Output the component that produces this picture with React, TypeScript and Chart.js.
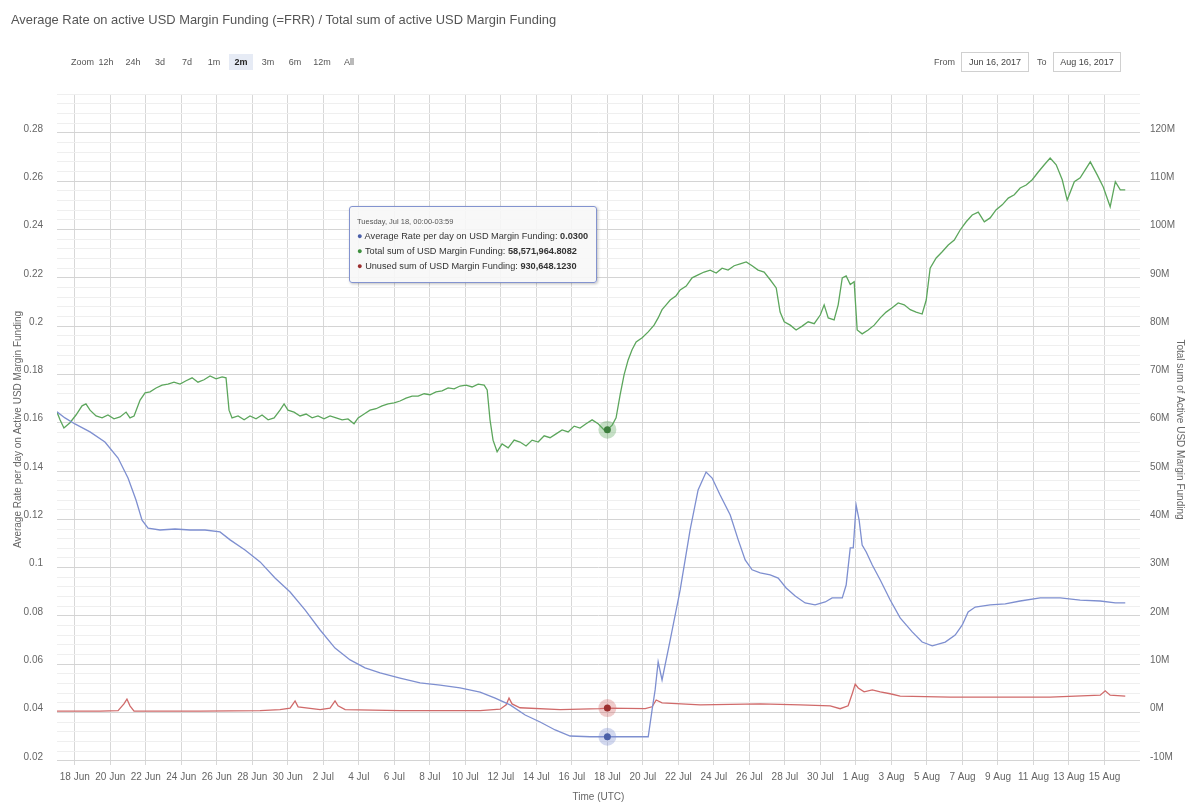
import React, { useEffect, useRef } from 'react';
import { Chart, registerables } from 'chart.js';

Chart.register(...registerables);

const FONT = "'Liberation Sans', Arial, Helvetica, sans-serif";

// x values are days since 1 Jun 2017 00:00 UTC
const xTickDays = [17, 19, 21, 23, 25, 27, 29, 31, 33, 35, 37, 39, 41, 43, 45, 47, 49, 51, 53, 55, 57, 59, 61, 63, 65, 67, 69, 71, 73, 75];
const xTickLabels = ['18 Jun', '20 Jun', '22 Jun', '24 Jun', '26 Jun', '28 Jun', '30 Jun', '2 Jul', '4 Jul', '6 Jul', '8 Jul', '10 Jul', '12 Jul', '14 Jul', '16 Jul', '18 Jul', '20 Jul', '22 Jul', '24 Jul', '26 Jul', '28 Jul', '30 Jul', '1 Aug', '3 Aug', '5 Aug', '7 Aug', '9 Aug', '11 Aug', '13 Aug', '15 Aug'];

const leftTickValues = [0.28, 0.26, 0.24, 0.22, 0.2, 0.18, 0.16, 0.14, 0.12, 0.1, 0.08, 0.06, 0.04, 0.02];
const leftTickLabels = ['0.28', '0.26', '0.24', '0.22', '0.2', '0.18', '0.16', '0.14', '0.12', '0.1', '0.08', '0.06', '0.04', '0.02'];
const rightTickValues = [120, 110, 100, 90, 80, 70, 60, 50, 40, 30, 20, 10, 0, -10];
const rightTickLabels = ['120M', '110M', '100M', '90M', '80M', '70M', '60M', '50M', '40M', '30M', '20M', '10M', '0M', '-10M'];

// Average Rate per day on USD Margin Funding (left axis)
const rateDays = [16.0, 16.45, 17.01, 17.86, 18.7, 19.44, 20.0, 20.45, 20.79, 21.13, 21.8, 22.65, 23.49, 24.34, 25.18, 25.75, 26.59, 27.44, 28.28, 29.13, 29.97, 30.82, 31.66, 32.51, 33.35, 34.2, 35.32, 36.45, 37.58, 38.7, 39.83, 40.68, 41.52, 42.37, 43.21, 44.06, 44.9, 46.03, 47.0, 48.28, 49.3, 49.52, 49.69, 49.86, 50.08, 50.54, 51.1, 51.66, 52.11, 52.56, 52.9, 53.35, 53.92, 54.37, 54.76, 55.15, 55.61, 56.17, 56.62, 57.07, 57.58, 58.14, 58.7, 59.27, 59.66, 60.23, 60.45, 60.68, 60.85, 61.01, 61.18, 61.35, 61.58, 61.92, 62.37, 62.93, 63.49, 64.17, 64.73, 65.3, 66.03, 66.59, 66.99, 67.32, 67.72, 68.56, 69.41, 70.25, 71.38, 72.51, 73.63, 74.76, 75.61, 76.17];
const rateValues = [0.1645, 0.162, 0.1595, 0.1562, 0.152, 0.1454, 0.1371, 0.128, 0.1197, 0.1164, 0.1156, 0.116, 0.1156, 0.1156, 0.1148, 0.1115, 0.1073, 0.1024, 0.0957, 0.0899, 0.0825, 0.0742, 0.0667, 0.0618, 0.0585, 0.0564, 0.0543, 0.0523, 0.0514, 0.0502, 0.0485, 0.046, 0.0432, 0.039, 0.0361, 0.0328, 0.0303, 0.03, 0.03, 0.03, 0.03, 0.0412, 0.0494, 0.061, 0.0535, 0.0701, 0.0908, 0.1156, 0.1322, 0.1396, 0.1371, 0.1301, 0.1218, 0.1115, 0.1032, 0.0991, 0.0978, 0.097, 0.0957, 0.0916, 0.0883, 0.0854, 0.0846, 0.0858, 0.0875, 0.0875, 0.0928, 0.1082, 0.1082, 0.126, 0.1197, 0.1094, 0.1065, 0.1011, 0.0949, 0.0866, 0.0792, 0.0734, 0.0692, 0.0676, 0.0692, 0.0721, 0.0763, 0.0817, 0.0837, 0.0846, 0.085, 0.0862, 0.0875, 0.0875, 0.0866, 0.0862, 0.0854, 0.0854];

// Total sum of USD Margin Funding, millions (right axis)
const totalDays = [16.0, 16.17, 16.39, 16.73, 17.07, 17.41, 17.63, 17.86, 18.2, 18.54, 18.87, 19.21, 19.55, 19.89, 20.11, 20.34, 20.68, 20.96, 21.24, 21.58, 21.92, 22.25, 22.59, 22.93, 23.27, 23.61, 23.94, 24.28, 24.62, 24.96, 25.3, 25.52, 25.69, 25.86, 26.2, 26.54, 26.87, 27.21, 27.55, 27.89, 28.23, 28.56, 28.79, 29.01, 29.35, 29.69, 30.03, 30.37, 30.7, 31.04, 31.38, 31.72, 32.06, 32.39, 32.73, 32.96, 33.3, 33.63, 33.97, 34.31, 34.65, 34.99, 35.32, 35.66, 36.0, 36.34, 36.68, 37.01, 37.35, 37.69, 38.03, 38.37, 38.7, 39.04, 39.38, 39.72, 40.06, 40.23, 40.39, 40.56, 40.79, 41.07, 41.41, 41.75, 42.08, 42.42, 42.76, 43.1, 43.44, 43.77, 44.11, 44.45, 44.79, 45.13, 45.46, 45.8, 46.14, 46.48, 46.82, 47.0, 47.27, 47.49, 47.72, 47.94, 48.17, 48.39, 48.62, 48.96, 49.3, 49.63, 49.86, 50.08, 50.31, 50.54, 50.87, 51.1, 51.44, 51.77, 52.11, 52.45, 52.79, 53.13, 53.46, 53.8, 54.14, 54.48, 54.82, 55.15, 55.49, 55.83, 56.17, 56.51, 56.73, 56.96, 57.3, 57.63, 57.97, 58.31, 58.65, 58.99, 59.21, 59.44, 59.77, 60.0, 60.23, 60.45, 60.68, 60.9, 61.07, 61.35, 61.69, 62.03, 62.37, 62.7, 63.04, 63.38, 63.72, 64.06, 64.39, 64.73, 64.96, 65.18, 65.52, 65.86, 66.2, 66.54, 66.87, 67.21, 67.55, 67.89, 68.23, 68.56, 68.9, 69.24, 69.58, 69.92, 70.25, 70.59, 70.93, 71.27, 71.61, 71.94, 72.28, 72.62, 72.9, 73.3, 73.63, 74.2, 74.59, 74.93, 75.32, 75.61, 75.89, 76.17];
const totalValues = [62.2, 60.6, 58.9, 60.0, 61.6, 63.5, 63.9, 62.6, 61.4, 61.0, 61.6, 60.8, 61.2, 62.2, 61.0, 61.4, 64.7, 66.2, 66.4, 67.2, 67.8, 68.0, 68.4, 68.0, 68.7, 69.3, 68.4, 68.9, 69.7, 69.1, 69.5, 69.3, 62.6, 61.0, 61.4, 60.6, 61.4, 60.8, 61.6, 60.6, 61.0, 62.6, 63.9, 62.6, 62.2, 61.4, 61.8, 61.0, 61.4, 60.8, 61.4, 61.0, 60.6, 60.8, 59.8, 61.0, 61.8, 62.6, 62.9, 63.5, 63.9, 64.1, 64.5, 65.1, 65.5, 65.5, 66.0, 65.8, 66.4, 66.6, 67.2, 67.0, 67.6, 67.8, 67.4, 68.0, 67.8, 66.8, 60.6, 56.4, 54.0, 55.6, 54.8, 56.4, 56.0, 55.2, 56.4, 56.0, 57.3, 56.9, 57.7, 58.5, 58.1, 59.3, 58.9, 59.8, 60.6, 59.8, 58.5, 58.57, 59.5, 61.0, 65.8, 69.9, 73.0, 75.1, 76.7, 77.6, 78.8, 80.2, 81.7, 83.4, 84.4, 85.4, 86.3, 87.5, 88.3, 90.0, 90.6, 91.2, 91.6, 91.0, 92.0, 91.6, 92.5, 92.9, 93.3, 92.5, 91.6, 91.2, 89.6, 87.9, 82.9, 80.9, 80.2, 79.2, 80.0, 80.9, 80.5, 82.3, 84.4, 81.7, 81.3, 84.4, 90.0, 90.4, 88.6, 89.2, 79.2, 78.4, 79.2, 80.2, 81.7, 82.9, 83.8, 84.8, 84.4, 83.4, 82.9, 82.5, 85.4, 92.0, 94.1, 95.4, 96.8, 97.8, 99.9, 101.6, 103.0, 103.6, 101.6, 102.4, 104.1, 105.1, 106.5, 107.2, 108.6, 109.2, 110.3, 111.9, 113.4, 114.8, 113.4, 110.3, 106.1, 109.9, 110.7, 114.0, 111.3, 108.8, 104.7, 109.9, 108.2, 108.2];

// Unused sum of USD Margin Funding, millions (right axis)
const unusedDays = [16.0, 18.42, 19.44, 19.77, 19.94, 20.11, 20.34, 24.06, 27.44, 28.56, 29.13, 29.41, 29.58, 30.82, 31.38, 31.66, 31.83, 32.23, 35.32, 39.83, 40.96, 41.3, 41.46, 41.63, 42.08, 44.34, 46.59, 47.0, 49.13, 49.52, 49.75, 50.08, 52.23, 55.61, 57.86, 59.55, 60.11, 60.56, 60.79, 60.96, 61.13, 61.46, 61.92, 62.37, 62.93, 63.49, 66.31, 69.13, 71.94, 74.76, 75.04, 75.32, 76.17];
const unusedValues = [0.3, 0.3, 0.4, 1.8, 2.8, 1.4, 0.3, 0.3, 0.4, 0.6, 0.9, 2.4, 1.2, 0.6, 0.9, 2.4, 1.4, 0.6, 0.4, 0.4, 0.7, 1.6, 3.0, 1.8, 1.0, 0.6, 0.8, 0.93, 0.8, 1.2, 2.6, 2.0, 1.6, 1.8, 1.6, 1.4, 0.8, 1.4, 3.9, 5.9, 5.1, 4.3, 4.7, 4.3, 3.9, 3.4, 3.2, 3.2, 3.2, 3.6, 4.5, 3.6, 3.4];

const seriesNames = ['Average Rate per day on USD Margin Funding', 'Total sum of USD Margin Funding', 'Unused sum of USD Margin Funding'];
const highlightDay = 47;
const tooltipHeader = 'Tuesday, Jul 18, 00:00-03:59';
const tooltipValues = ['0.0300', '58,571,964.8082', '930,648.1230'];

const zoomButtons = ['12h', '24h', '3d', '7d', '1m', '2m', '3m', '6m', '12m', 'All'];
const selectedZoom = '2m';
const fromDate = 'Jun 16, 2017';
const toDate = 'Aug 16, 2017';

const COLORS = ['#7e8fd0', '#5ca65c', '#d06a6a'];
const HALOS = ['rgba(126,143,208,0.35)', 'rgba(92,166,92,0.35)', 'rgba(208,106,106,0.35)'];
const MARKERS = ['#4a5fa8', '#3d7f3d', '#9c2f2f'];
const BULLETS = ['#4a5fa8', '#3d8f3d', '#9c2f2f'];

const LEFT_MIN = 0.0183;
const LEFT_MAX = 0.2961;
const RIGHT_MIN = -10.85;
const RIGHT_MAX = 128.05;

function buildLeftGridValues(): number[] {
  const out: number[] = [];
  const sorted = [...leftTickValues].sort((a, b) => a - b);
  const step = (sorted[1] - sorted[0]) / 5;
  for (let i = 0; i < sorted.length; i++) {
    for (let k = 0; k < 5; k++) {
      const v = sorted[i] + k * step;
      if (v <= LEFT_MAX + 1e-9) out.push(+v.toFixed(4));
    }
  }
  return out;
}

const isMajorLeft = (v: number) => leftTickValues.some((m) => Math.abs(m - v) < 1e-6);

const haloPlugin = {
  id: 'haloPlugin',
  afterDatasetsDraw(chart: any) {
    const ctx = chart.ctx;
    chart.data.datasets.forEach((ds: any, i: number) => {
      const meta = chart.getDatasetMeta(i);
      const idx = ds.data.findIndex((p: any) => Math.abs(p.x - highlightDay) < 1e-6);
      if (idx < 0) return;
      const el = meta.data[idx];
      ctx.save();
      ctx.beginPath();
      ctx.arc(el.x, el.y, 9, 0, Math.PI * 2);
      ctx.fillStyle = HALOS[i];
      ctx.fill();
      ctx.beginPath();
      ctx.arc(el.x, el.y, 3.5, 0, Math.PI * 2);
      ctx.fillStyle = MARKERS[i];
      ctx.fill();
      ctx.restore();
    });
  },
};

export default function App() {
  const canvasRef = useRef<HTMLCanvasElement | null>(null);

  useEffect(() => {
    if (!canvasRef.current) return;
    Chart.defaults.font.family = FONT;
    const toPoints = (xs: number[], ys: number[]) => xs.map((x, i) => ({ x, y: ys[i] }));
    const leftGrid = buildLeftGridValues();

    const chart = new Chart(canvasRef.current, {
      type: 'line',
      data: {
        datasets: [
          { label: seriesNames[0], data: toPoints(rateDays, rateValues), yAxisID: 'yL', borderColor: COLORS[0], borderWidth: 1.3, pointRadius: 0, tension: 0 },
          { label: seriesNames[1], data: toPoints(totalDays, totalValues), yAxisID: 'yR', borderColor: COLORS[1], borderWidth: 1.3, pointRadius: 0, tension: 0 },
          { label: seriesNames[2], data: toPoints(unusedDays, unusedValues), yAxisID: 'yR', borderColor: COLORS[2], borderWidth: 1.3, pointRadius: 0, tension: 0 },
        ],
      },
      options: {
        animation: false,
        responsive: false,
        devicePixelRatio: 1,
        parsing: false as any,
        normalized: true,
        layout: { padding: { top: 94, left: 0, right: 0, bottom: 0 } },
        plugins: {
          legend: { display: false },
          tooltip: { enabled: false },
          title: { display: false },
        },
        scales: {
          x: {
            type: 'linear',
            min: 16,
            max: 77,
            afterBuildTicks: (scale: any) => {
              scale.ticks = xTickDays.map((v) => ({ value: v }));
            },
            afterFit: (scale: any) => {
              scale.height = 39;
            },
            ticks: {
              autoSkip: false,
              maxRotation: 0,
              padding: 6,
              color: '#666',
              font: { size: 10 },
              callback: (value: any) => {
                const i = xTickDays.indexOf(Number(value));
                return i >= 0 ? xTickLabels[i] : '';
              },
            },
            grid: { color: '#d8d8d8', drawTicks: false, lineWidth: 1 },
            border: { display: false },
            title: { display: true, text: 'Time (UTC)', color: '#666', font: { size: 10 }, padding: { top: 0, bottom: 1 } },
          },
          yL: {
            type: 'linear',
            position: 'left',
            min: LEFT_MIN,
            max: LEFT_MAX,
            afterBuildTicks: (scale: any) => {
              scale.ticks = leftGrid.map((v) => ({ value: v }));
            },
            afterFit: (scale: any) => {
              scale.width = 57;
            },
            ticks: {
              autoSkip: false,
              padding: 14,
              labelOffset: -4,
              color: '#666',
              font: { size: 10 },
              callback: (value: any) => {
                const i = leftTickValues.findIndex((m) => Math.abs(m - Number(value)) < 1e-6);
                return i >= 0 ? leftTickLabels[i] : '';
              },
            },
            grid: {
              drawTicks: false,
              color: (ctx: any) => (ctx.tick && isMajorLeft(ctx.tick.value) ? '#d4d4d4' : '#efefef'),
            },
            border: { display: false },
            title: {
              display: true,
              text: 'Average Rate per day on Active USD Margin Funding',
              color: '#666',
              font: { size: 10 },
              padding: { top: 12, bottom: 0 },
            },
          },
          yR: {
            type: 'linear',
            position: 'right',
            min: RIGHT_MIN,
            max: RIGHT_MAX,
            afterBuildTicks: (scale: any) => {
              scale.ticks = rightTickValues.map((v) => ({ value: v }));
            },
            afterFit: (scale: any) => {
              scale.width = 54;
            },
            ticks: {
              autoSkip: false,
              padding: 10,
              labelOffset: -4,
              color: '#666',
              font: { size: 10 },
              callback: (value: any) => {
                const i = rightTickValues.indexOf(Number(value));
                return i >= 0 ? rightTickLabels[i] : '';
              },
            },
            grid: { display: false, drawTicks: false },
            border: { display: false },
            title: {
              display: true,
              text: 'Total sum of Active USD Margin Funding',
              color: '#666',
              font: { size: 10 },
              padding: { top: 8, bottom: 0 },
            },
          },
        },
      } as any,
      plugins: [haloPlugin],
    });
    return () => chart.destroy();
  }, []);

  const small: React.CSSProperties = { position: 'absolute', fontSize: 9, color: '#555', lineHeight: '16px' };

  return (
    <div style={{ position: 'fixed', left: 0, top: 0, width: 1194, height: 804, background: '#fff', fontFamily: FONT, overflow: 'hidden' }}>
      <canvas ref={canvasRef} width={1194} height={804} style={{ position: 'absolute', left: 0, top: 0, width: 1194, height: 804 }} />
      <div style={{ position: 'absolute', left: 11, top: 12, fontSize: 12.9, color: '#555', whiteSpace: 'nowrap' }}>
        Average Rate on active USD Margin Funding (=FRR) / Total sum of active USD Margin Funding
      </div>
      <div style={{ ...small, left: 71, top: 54 }}>Zoom</div>
      {zoomButtons.map((b, i) => (
        <div
          key={b}
          style={{
            ...small,
            left: 94 + 27 * i,
            top: 54,
            width: 24,
            height: 16,
            textAlign: 'center',
            background: b === selectedZoom ? '#e6ebf5' : 'transparent',
            fontWeight: b === selectedZoom ? 'bold' : 'normal',
            color: b === selectedZoom ? '#222' : '#555',
          }}
        >
          {b}
        </div>
      ))}
      <div style={{ ...small, left: 934, top: 54 }}>From</div>
      <div style={{ ...small, left: 961, top: 52, width: 66, height: 18, lineHeight: '18px', border: '1px solid #d0d0d0', textAlign: 'center', color: '#444' }}>{fromDate}</div>
      <div style={{ ...small, left: 1037, top: 54 }}>To</div>
      <div style={{ ...small, left: 1053, top: 52, width: 66, height: 18, lineHeight: '18px', border: '1px solid #d0d0d0', textAlign: 'center', color: '#444' }}>{toDate}</div>

      <div
        style={{
          position: 'absolute',
          left: 349,
          top: 206,
          width: 248,
          height: 77,
          background: 'rgba(247,247,247,0.9)',
          border: '1px solid #8393cf',
          borderRadius: 3,
          boxShadow: '1px 1px 3px rgba(0,0,0,0.25)',
          padding: '7px 0 0 7px',
          boxSizing: 'border-box',
          fontSize: 9.2,
          color: '#333',
          lineHeight: '15px',
          whiteSpace: 'nowrap',
        }}
      >
        <div style={{ fontSize: 7.5, color: '#555' }}>{tooltipHeader}</div>
        {seriesNames.map((n, i) => (
          <div key={n}>
            <span style={{ color: BULLETS[i] }}>●</span> {n}: <b>{tooltipValues[i]}</b>
          </div>
        ))}
      </div>
    </div>
  );
}
